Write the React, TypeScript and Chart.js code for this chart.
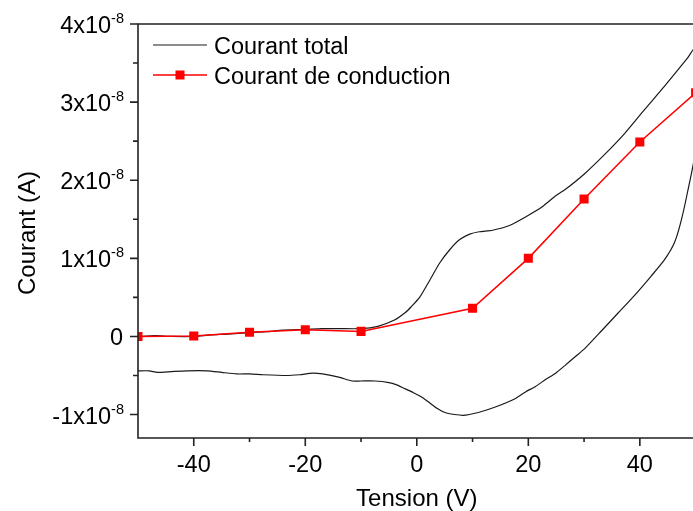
import { useEffect, useRef } from 'react';
import { Chart, registerables } from 'chart.js';

Chart.register(...registerables);

// Total current: forward sweep (-50 V -> 50 V)
const totalForwardV = [-50, -47, -44, -40, -37, -34, -30, -27, -24, -20, -17, -14, -10, -7, -4, -2, -1, 0.5, 2.4, 4.1, 5.9, 7.7, 9.5, 11.2, 13.6, 16.6, 19.5, 22.5, 24.9, 26.6, 30.2, 33.7, 37.3, 40.8, 44.4, 48.5, 50];
const totalForwardI = [0.0e-8, 0.01e-8, 0.0e-8, 0.0e-8, 0.02e-8, 0.03e-8, 0.05e-8, 0.06e-8, 0.08e-8, 0.09e-8, 0.1e-8, 0.1e-8, 0.1e-8, 0.13e-8, 0.21e-8, 0.31e-8, 0.38e-8, 0.5e-8, 0.73e-8, 0.94e-8, 1.11e-8, 1.24e-8, 1.31e-8, 1.34e-8, 1.36e-8, 1.42e-8, 1.53e-8, 1.66e-8, 1.8e-8, 1.88e-8, 2.09e-8, 2.33e-8, 2.6e-8, 2.9e-8, 3.2e-8, 3.56e-8, 3.7e-8];
// Total current: return sweep (50 V -> -50 V)
const totalReturnV = [50, 48.5, 47.3, 46.2, 44.4, 42.0, 39.1, 36.1, 33.1, 30.2, 28.4, 26.6, 24.9, 23.1, 21.3, 19.5, 17.8, 14.2, 11.2, 8.3, 5.3, 3.6, 1.2, -0.6, -2.4, -3.6, -5, -7.5, -10, -11.6, -14, -16.9, -18.7, -21, -23.5, -27.6, -30, -32.3, -35, -37.6, -41.2, -44, -46.5, -48, -50];
const totalReturnI = [2.4e-8, 1.83e-8, 1.45e-8, 1.2e-8, 0.98e-8, 0.77e-8, 0.53e-8, 0.3e-8, 0.07e-8, -0.15e-8, -0.26e-8, -0.37e-8, -0.47e-8, -0.55e-8, -0.64e-8, -0.71e-8, -0.79e-8, -0.9e-8, -0.97e-8, -1.01e-8, -0.98e-8, -0.92e-8, -0.79e-8, -0.72e-8, -0.66e-8, -0.62e-8, -0.59e-8, -0.57e-8, -0.57e-8, -0.57e-8, -0.52e-8, -0.48e-8, -0.47e-8, -0.49e-8, -0.5e-8, -0.49e-8, -0.48e-8, -0.48e-8, -0.46e-8, -0.44e-8, -0.44e-8, -0.45e-8, -0.46e-8, -0.44e-8, -0.44e-8];

// Conduction current
const conductionV = [-50, -40, -30, -20, -10, 10, 20, 30, 40, 50];
const conductionI = [0.0e-8, 0.005e-8, 0.055e-8, 0.085e-8, 0.065e-8, 0.36e-8, 1.0e-8, 1.76e-8, 2.49e-8, 3.12e-8];

const xMajorTicks = [-40, -20, 0, 20, 40];
const xTickLabels = ['-40', '-20', '0', '20', '40'];
const xMinorTicks = [-30, -10, 10, 30];
const yMajorTicks = [-1e-8, 0, 1e-8, 2e-8, 3e-8, 4e-8];
const yTickBases = ['-1x10', '0', '1x10', '2x10', '3x10', '4x10'];
const yTickExps = ['-8', '', '-8', '-8', '-8', '-8'];
const yMinorTicks = [-0.5e-8, 0.5e-8, 1.5e-8, 2.5e-8, 3.5e-8];

const xTitle = 'Tension (V)';
const yTitle = 'Courant (A)';
const legendLabels = ['Courant total', 'Courant de conduction'];

const FONT = '"Liberation Sans", Arial, sans-serif';
const AXIS = '#222222';
const BLACK_LINE = '#1a1a1a';
const RED = '#ff0000';

const framePlugin = {
  id: 'originFrame',
  afterDatasetsDraw(chart: any) {
    const { ctx, chartArea: a, scales } = chart;
    const x = scales.x;
    const y = scales.y;
    ctx.save();
    ctx.strokeStyle = AXIS;
    ctx.lineWidth = 1.6;
    ctx.beginPath();
    ctx.moveTo(a.left, a.top);
    ctx.lineTo(a.left, a.bottom);
    ctx.lineTo(a.right, a.bottom);
    ctx.lineTo(a.right, a.top);
    ctx.closePath();
    ctx.stroke();

    // y ticks
    ctx.beginPath();
    yMajorTicks.forEach((v) => {
      const py = y.getPixelForValue(v);
      ctx.moveTo(a.left - 8, py);
      ctx.lineTo(a.left, py);
    });
    yMinorTicks.forEach((v) => {
      const py = y.getPixelForValue(v);
      ctx.moveTo(a.left - 5, py);
      ctx.lineTo(a.left, py);
    });
    // x ticks
    xMajorTicks.forEach((v) => {
      const px = x.getPixelForValue(v);
      ctx.moveTo(px, a.bottom);
      ctx.lineTo(px, a.bottom + 8);
    });
    xMinorTicks.forEach((v) => {
      const px = x.getPixelForValue(v);
      ctx.moveTo(px, a.bottom);
      ctx.lineTo(px, a.bottom + 4);
    });
    ctx.stroke();

    // tick labels
    ctx.fillStyle = '#000';
    ctx.textBaseline = 'alphabetic';
    const mainFont = `23.5px ${FONT}`;
    const supFont = `14.5px ${FONT}`;
    const labelRight = a.left - 14;
    yMajorTicks.forEach((v, i) => {
      const py = y.getPixelForValue(v);
      const exp = yTickExps[i];
      if (exp) {
        ctx.font = supFont;
        const supW = ctx.measureText(exp).width;
        ctx.textAlign = 'right';
        ctx.fillText(exp, labelRight, py - 1);
        ctx.font = mainFont;
        ctx.fillText(yTickBases[i], labelRight - supW, py + 9);
      } else {
        ctx.font = mainFont;
        ctx.textAlign = 'right';
        ctx.fillText(yTickBases[i], labelRight - 1, py + 8.5);
      }
    });
    ctx.font = mainFont;
    ctx.textAlign = 'center';
    xMajorTicks.forEach((v, i) => {
      const px = x.getPixelForValue(v);
      ctx.fillText(xTickLabels[i], px, a.bottom + 34);
    });

    // axis titles
    ctx.font = `24px ${FONT}`;
    ctx.textAlign = 'center';
    ctx.fillText(xTitle, (a.left + a.right) / 2, 506);
    ctx.save();
    ctx.translate(35, 233);
    ctx.rotate(-Math.PI / 2);
    ctx.fillText(yTitle, 0, 0);
    ctx.restore();

    // legend
    const ds = chart.data.datasets;
    const rows = [
      { label: legendLabels[0], color: ds[1].borderColor, width: ds[1].borderWidth, marker: false, yy: 45 },
      { label: legendLabels[1], color: ds[0].borderColor, width: ds[0].borderWidth, marker: true, yy: 75 },
    ];
    rows.forEach((r) => {
      ctx.strokeStyle = r.color;
      ctx.lineWidth = r.width;
      ctx.beginPath();
      ctx.moveTo(153, r.yy);
      ctx.lineTo(207, r.yy);
      ctx.stroke();
      if (r.marker) {
        ctx.fillStyle = r.color;
        ctx.fillRect(180 - 4.5, r.yy - 4.5, 9, 9);
      }
      ctx.fillStyle = '#000';
      ctx.font = mainFont;
      ctx.textAlign = 'left';
      ctx.fillText(r.label, 214, r.yy + 8.5);
    });
    ctx.restore();
  },
};

export default function App() {
  const ref = useRef<HTMLCanvasElement>(null);
  useEffect(() => {
    const totalData = [
      ...totalForwardV.map((v, i) => ({ x: v, y: totalForwardI[i] })),
      ...totalReturnV.map((v, i) => ({ x: v, y: totalReturnI[i] })),
    ];
    const conductionData = conductionV.map((v, i) => ({ x: v, y: conductionI[i] }));
    const chart = new Chart(ref.current as HTMLCanvasElement, {
      type: 'line',
      data: {
        datasets: [
          {
            label: legendLabels[1],
            data: conductionData,
            borderColor: RED,
            backgroundColor: RED,
            borderWidth: 1.5,
            pointStyle: 'rect',
            pointRadius: 6.4,
            pointBorderWidth: 0,
            pointBackgroundColor: RED,
            tension: 0,
          },
          {
            label: legendLabels[0],
            data: totalData,
            borderColor: BLACK_LINE,
            backgroundColor: BLACK_LINE,
            borderWidth: 1.2,
            pointRadius: 0,
            tension: 0.2,
          },
        ],
      },
      options: {
        animation: false,
        responsive: false,
        devicePixelRatio: 1,
        layout: { padding: { left: 138, top: 24, right: 0, bottom: 73 } },
        scales: {
          x: { type: 'linear', min: -50, max: 50, display: false },
          y: { type: 'linear', min: -1.3e-8, max: 4e-8, display: false },
        },
        plugins: {
          legend: { display: false },
          tooltip: { enabled: false },
        },
      },
      plugins: [framePlugin],
    } as any);
    return () => chart.destroy();
  }, []);
  return (
    <div style={{ position: 'fixed', left: 0, top: 0, width: 693, height: 511, overflow: 'hidden', background: '#fff' }}>
      <canvas ref={ref} width={702} height={511} style={{ display: 'block', width: 702, height: 511 }} />
    </div>
  );
}
